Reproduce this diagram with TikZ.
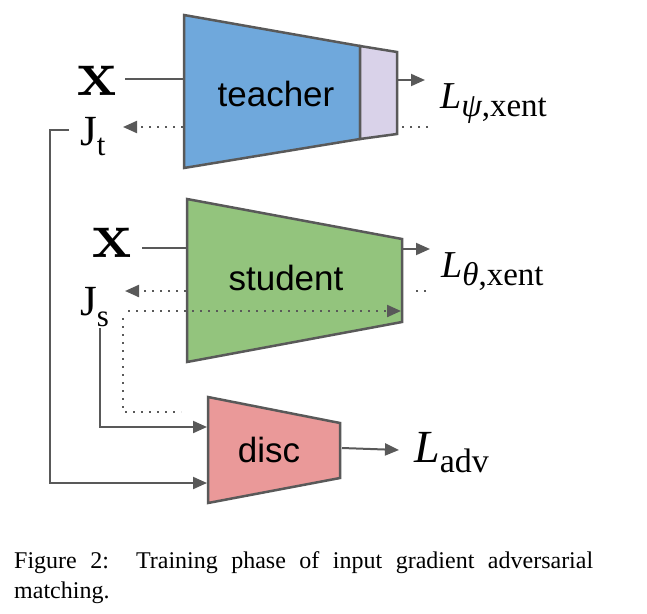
\documentclass[tikz,border=0pt]{standalone}
\usepackage{fontspec}
\newfontfamily\tms{Liberation Serif}
\newfontfamily\arl{Liberation Sans}
\usetikzlibrary{arrows.meta}
\definecolor{tblue}{HTML}{6FA8DC}
\definecolor{sgreen}{HTML}{93C47D}
\definecolor{dred}{HTML}{EA9999}
\definecolor{hpurple}{HTML}{D9D2E9}
\definecolor{edgec}{HTML}{595959}
\tikzset{
  block/.style={draw=edgec, line width=2.5pt, line join=miter},
  conn/.style={draw=edgec, line width=2pt},
  arr/.style={conn, -{Triangle[length=14pt,width=12pt]}},
  dotline/.style={draw=edgec, line width=2.2pt, dash pattern=on 2.2pt off 5.8pt},
  darr/.style={dotline, -{Triangle[length=14pt,width=12pt]}},
  lbl/.style={inner sep=0pt, anchor=base west},
  sans/.style={inner sep=0pt, anchor=base, font=\arl\fontsize{35}{35}\selectfont},
}
\begin{document}
\begin{tikzpicture}[x=1pt,y=-1pt]
\useasboundingbox (0,0) rectangle (647,613);
% blocks
\draw[block, fill=tblue] (184,15) -- (360,46) -- (360,139) -- (184,168) -- cycle;
\draw[block, fill=hpurple] (360,46) -- (397,52) -- (397,134) -- (360,139) -- cycle;
\draw[block, fill=sgreen] (187,199) -- (402,239) -- (402,322) -- (187,362) -- cycle;
\draw[block, fill=dred] (208,397) -- (340,423) -- (340,478) -- (208,503) -- cycle;
% block texts
\node[sans] (teacher) at (276,106) {teacher};
\node[sans] (student) at (286,290) {student};
\node[sans] (disc) at (269,462) {disc};
% labels
\node[lbl] (xT) at (77,95) {\fontsize{66}{66}\selectfont\bfseries x};
\node[lbl] (xS) at (92,257) {\fontsize{66}{66}\selectfont\bfseries x};
\node[lbl] (Jt) at (80,145) {\tms\fontsize{43}{43}\selectfont J\raisebox{-10pt}{\fontsize{31}{31}\selectfont t}};
\node[lbl] (Js) at (80,315) {\tms\fontsize{43}{43}\selectfont J\raisebox{-11pt}{\fontsize{31}{31}\selectfont s}};
\node[lbl] (Lpsi) at (440,108) {\tms\fontsize{38}{38}\selectfont\itshape L\raisebox{-8pt}{\fontsize{33}{33}\selectfont ψ\upshape,xent}};
\node[lbl] (Ltheta) at (441,277) {\tms\fontsize{38}{38}\selectfont\itshape L\raisebox{-8pt}{\fontsize{33}{33}\selectfont θ\upshape,xent}};
\node[lbl] (Ladv) at (414,462) {\tms\fontsize{46}{46}\selectfont\itshape L\raisebox{-10pt}{\fontsize{34}{34}\selectfont\upshape adv}};
% anchor coordinates
\coordinate (xTe) at (125,79); \coordinate (tIn) at (184,79);
\coordinate (tOut) at (397,80); \coordinate (tOutE) at (425,80);
\coordinate (tBack) at (183,127); \coordinate (JtR) at (123,127);
\coordinate (tDotA) at (401,127); \coordinate (tDotB) at (428,127);
\coordinate (JtL) at (69,130); \coordinate (fr1) at (50,130); \coordinate (fr2) at (50,483); \coordinate (dIn2) at (207,483);
\coordinate (xSe) at (142,248); \coordinate (sIn) at (187,248);
\coordinate (sOut) at (402,249); \coordinate (sOutE) at (430,249);
\coordinate (sBack) at (186,291); \coordinate (JsR) at (125,291);
\coordinate (sDotA) at (411,291); \coordinate (sDotB) at (426,291);
\coordinate (JsD) at (128,311); \coordinate (sRight) at (401,311);
\coordinate (JsV) at (123,318); \coordinate (JsV2) at (123,412); \coordinate (JsV3) at (181,412);
\coordinate (JsS) at (100,328); \coordinate (JsS2) at (100,427); \coordinate (dIn1) at (207,427);
\coordinate (dOut) at (342,448); \coordinate (dOutE) at (399,450);
% connectors
\draw[conn] (xTe) -- (tIn);
\draw[arr] (tOut) -- (tOutE);
\draw[darr] (tBack) -- (JtR);
\draw[dotline] (tDotB) -- (tDotA);
\draw[arr] (JtL) -- (fr1) -- (fr2) -- (dIn2);
\draw[conn] (xSe) -- (sIn);
\draw[arr] (sOut) -- (sOutE);
\draw[darr] (sBack) -- (JsR);
\draw[dotline] (sDotB) -- (sDotA);
\draw[darr] (JsD) -- (sRight);
\draw[dotline] (JsV) -- (JsV2) -- (JsV3);
\draw[arr] (JsS) -- (JsS2) -- (dIn1);
\draw[arr] (dOut) -- (dOutE);
% caption
\node[inner sep=0pt, anchor=base west, text width=579pt, align=justify,
      font=\tms\fontsize{24}{30}\selectfont] (cap) at (14,568)
  {\hyphenpenalty=10000 Figure 2:\ \ Training phase of input gradient adversarial\linebreak matching.};
\end{tikzpicture}
\end{document}
